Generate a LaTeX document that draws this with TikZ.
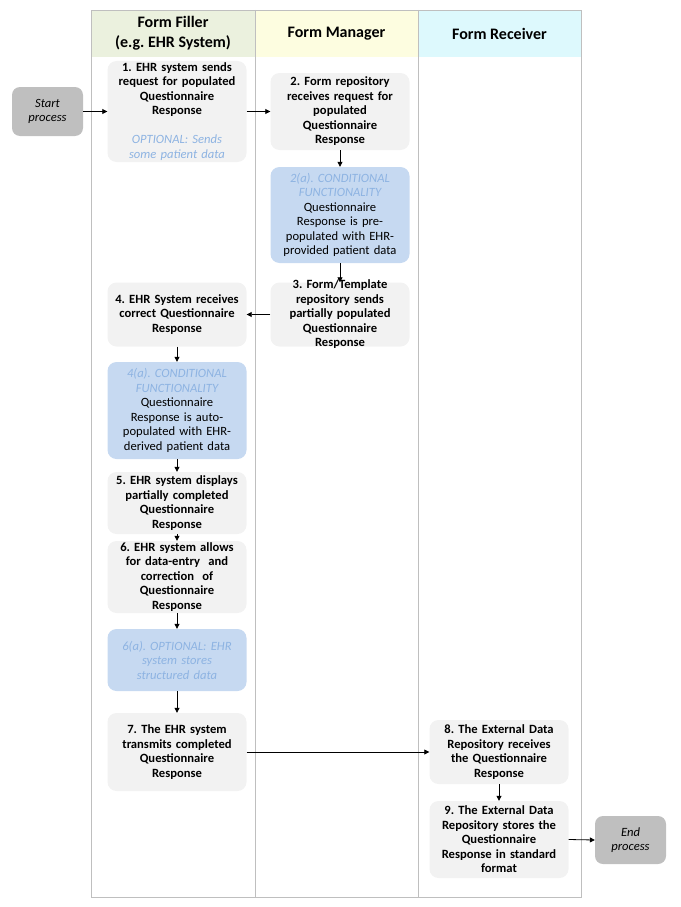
\documentclass[tikz,border=0pt]{standalone}
\usepackage{fontspec}
\setmainfont{Carlito}
\usetikzlibrary{arrows.meta}
\frenchspacing
\definecolor{boxgray}{HTML}{F2F2F2}
\definecolor{boxblue}{HTML}{C6D9F1}
\definecolor{termgray}{HTML}{BFBFBF}
\definecolor{optblue}{HTML}{8DB3E2}
\definecolor{hdrgreen}{HTML}{EBF1DE}
\definecolor{hdryellow}{HTML}{FDFDE0}
\definecolor{hdrcyan}{HTML}{DDF9FD}
\definecolor{linegray}{HTML}{BFBFBF}
\newcommand{\boxfont}{\fontsize{12.6}{14.5}\selectfont}
\newcommand{\opttext}[1]{{\color{optblue}\mdseries\itshape #1}}
\begin{document}
\begin{tikzpicture}[x=1pt,y=-1pt,
  gbox/.style={fill=boxgray, rounded corners=9pt, minimum width=139pt, text width=135pt,
    align=center, inner xsep=2pt, inner ysep=0pt, font=\boxfont\bfseries},
  bbox/.style={gbox, fill=boxblue, font=\boxfont},
  term/.style={fill=termgray, rounded corners=8pt, minimum width=71pt, minimum height=49pt,
    align=center, inner sep=0pt, font=\boxfont\itshape},
  hdr/.style={align=center, font=\fontsize{16}{19.5}\selectfont\bfseries, inner sep=0pt},
  arr/.style={-{Triangle[length=5pt,width=5pt]}, line width=0.8pt, black}]
\useasboundingbox (0,0) rectangle (680,907);
% lanes
\fill[hdrgreen] (91,10) rectangle (255,57);
\fill[hdryellow] (255,10) rectangle (418,57);
\fill[hdrcyan] (418,10) rectangle (581,57);
\draw[linegray, line width=0.8pt] (91,10) rectangle (581,897);
\draw[linegray, line width=0.8pt] (255,10) -- (255,897);
\draw[linegray, line width=0.8pt] (418,10) -- (418,897);
\node[hdr] (h1) at (173,33) {Form Filler\\(e.g. EHR System)};
\node[hdr] (h2) at (336.5,34) {Form Manager};
\node[hdr] (h3) at (499.5,34) {Form Receiver};
% nodes
\node[term] (start) at (47.5,111.5) {Start\\process};
\node[gbox, minimum height=101pt] (b1) at (177,111.5) {1. EHR system sends\\request for populated\\Questionnaire\\Response\\[14.5pt]\opttext{OPTIONAL: Sends\\some patient data}};
\node[gbox, minimum height=77pt] (b2) at (340,111.5) {2. Form repository\\receives request for\\populated\\Questionnaire\\Response};
\node[bbox, minimum height=96pt] (b2a) at (340,215) {\opttext{2(a). CONDITIONAL\\FUNCTIONALITY}\\Questionnaire\\Response is pre-\\populated with EHR-\\provided patient data};
\node[gbox, minimum height=64pt, inner ysep=-3pt] (b3) at (340,314.5) {3. Form/Template\\repository sends\\partially populated\\Questionnaire\\Response};
\node[gbox, minimum height=64pt] (b4) at (177,314.5) {4. EHR System receives\\correct Questionnaire\\Response};
\node[bbox, minimum height=97pt] (b4a) at (177,410.5) {\opttext{4(a). CONDITIONAL\\FUNCTIONALITY}\\Questionnaire\\Response is auto-\\populated with EHR-\\derived patient data};
\node[gbox, minimum height=62pt] (b5) at (177,503) {5. EHR system displays\\partially completed\\Questionnaire\\Response};
\node[gbox, minimum height=72pt] (b6) at (177,577) {6. EHR system allows\\for data-entry\ \ and\\correction\ \ of\\Questionnaire\\Response};
\node[bbox, minimum height=62pt] (b6a) at (177,660) {\opttext{6(a). OPTIONAL: EHR\\system stores\\structured data}};
\node[gbox, minimum height=78pt] (b7) at (177,752) {7. The EHR system\\transmits completed\\Questionnaire\\Response};
\node[gbox, minimum height=64pt] (b8) at (499,752) {8. The External Data\\Repository receives\\the Questionnaire\\Response};
\node[gbox, minimum height=77pt] (b9) at (499,839.5) {9. The External Data\\Repository stores the\\Questionnaire\\Response in standard\\format};
\node[term, minimum height=48pt] (end) at (630.5,840) {End\\process};
% connectors
\draw[arr] (start.east) -- (b1.west);
\draw[arr] (b1.east) -- (b2.west);
\draw[arr] (b2.south) -- (b2a.north);
\draw[arr] (b2a.south) -- (b3.north);
\draw[arr] (b3.west) -- (b4.east);
\draw[arr] (b4.south) -- (b4a.north);
\draw[arr] (b4a.south) -- (b5.north);
\draw[arr] (b5.south) -- (b6.north);
\draw[arr] (b6.south) -- (b6a.north);
\draw[arr] (b6a.south) -- (b7.north);
\draw[arr] (b7.east) -- (b8.west);
\draw[arr] (b8.south) -- (b9.north);
\draw[arr] (b9.east) -- (end.west);
\end{tikzpicture}
\end{document}
